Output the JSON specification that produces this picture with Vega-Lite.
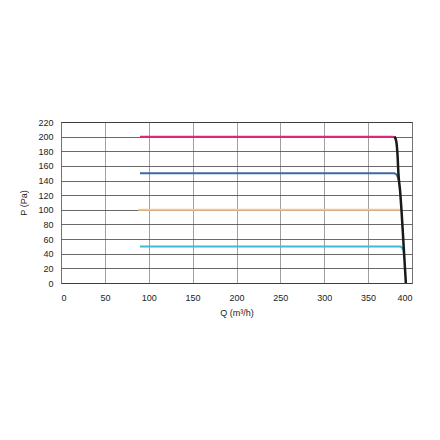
{
  "$schema": "https://vega.github.io/schema/vega-lite/v6.json",
  "autosize": "none",
  "padding": {"left": 61, "top": 122, "right": 28, "bottom": 157},
  "width": 351,
  "height": 161,
  "background": "white",
  "config": {
    "font": "Liberation Sans",
    "view": {"stroke": "#222", "strokeWidth": 1}
  },
  "datasets": {
    "curves": [
      {"series": "200", "Q": 90, "P": 200},
      {"series": "200", "Q": 378, "P": 200},
      {"series": "200", "Q": 380, "P": 199.3},
      {"series": "200", "Q": 381, "P": 197.5},
      {"series": "150", "Q": 90, "P": 150},
      {"series": "150", "Q": 379, "P": 150},
      {"series": "150", "Q": 382, "P": 148.5},
      {"series": "150", "Q": 384, "P": 144},
      {"series": "150", "Q": 385, "P": 140},
      {"series": "100", "Q": 88, "P": 100},
      {"series": "100", "Q": 387.5, "P": 100},
      {"series": "50", "Q": 90, "P": 50},
      {"series": "50", "Q": 386, "P": 50},
      {"series": "50", "Q": 388.5, "P": 48.5},
      {"series": "50", "Q": 390, "P": 45},
      {"series": "50", "Q": 391, "P": 40}
    ],
    "limit": [
      {"Q": 380, "P": 200},
      {"Q": 382, "P": 194},
      {"Q": 383.5, "P": 175},
      {"Q": 384.5, "P": 150},
      {"Q": 386.5, "P": 125},
      {"Q": 388, "P": 100},
      {"Q": 390.5, "P": 50},
      {"Q": 393, "P": 0}
    ]
  },
  "encoding": {
    "x": {
      "field": "Q",
      "type": "quantitative",
      "scale": {"domain": [0, 400], "nice": false},
      "axis": {
        "title": "Q (m³/h)",
        "values": [0, 50, 100, 150, 200, 250, 300, 350, 400],
        "grid": true,
        "gridColor": "#888",
        "gridWidth": 0.8,
        "domain": false,
        "ticks": false,
        "labelPadding": 10,
        "labelFontSize": 9,
        "labelColor": "#222",
        "titleFontSize": 9,
        "titleFontWeight": "normal",
        "titleColor": "#222",
        "titlePadding": 6
      }
    },
    "y": {
      "field": "P",
      "type": "quantitative",
      "scale": {"domain": [0, 220], "nice": false},
      "axis": {
        "title": "P (Pa)",
        "values": [0, 20, 40, 60, 80, 100, 120, 140, 160, 180, 200, 220],
        "grid": true,
        "gridColor": "#444",
        "gridWidth": 0.8,
        "domain": false,
        "ticks": false,
        "labelPadding": 8,
        "labelFontSize": 9,
        "labelColor": "#222",
        "titleFontSize": 9,
        "titleFontWeight": "normal",
        "titleColor": "#222",
        "titlePadding": 9
      }
    }
  },
  "layer": [
    {
      "data": {"name": "curves"},
      "mark": {"type": "line", "interpolate": "monotone", "strokeWidth": 2},
      "encoding": {
        "color": {
          "field": "series",
          "type": "nominal",
          "scale": {
            "domain": ["200", "150", "100", "50"],
            "range": ["#e0267f", "#3d68a6", "#f7c690", "#3cbcd6"]
          },
          "legend": null
        }
      }
    },
    {
      "data": {"name": "limit"},
      "mark": {"type": "line", "interpolate": "monotone", "strokeWidth": 2.5, "color": "#1a1a1a"},
      "encoding": {}
    }
  ]
}
